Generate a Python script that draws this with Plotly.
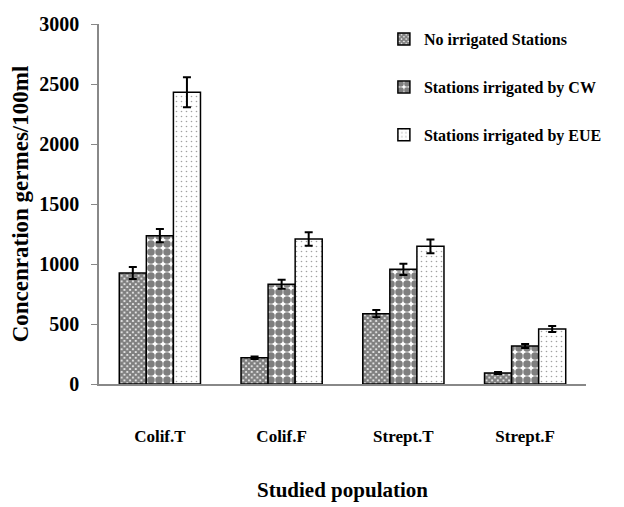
import plotly.graph_objects as go

categories = ["Colif.T", "Colif.F", "Strept.T", "Strept.F"]
series_names = ["No irrigated Stations", "Stations irrigated by CW", "Stations irrigated by EUE"]
no_irrigated = [925, 219, 586, 92]
no_irrigated_err = [50, 10, 30, 8]
cw = [1236, 831, 956, 317]
cw_err = [55, 38, 47, 17]
eue = [2431, 1208, 1147, 458]
eue_err = [125, 56, 58, 25]

FONT = "Liberation Serif, Times New Roman, serif"

fig = go.Figure()
patterns = [
    dict(shape="x", fgcolor="#000000", bgcolor="#ffffff", size=4, solidity=0.8),
    dict(shape=".", fgcolor="#000000", bgcolor="#ffffff", size=8, solidity=0.7),
    dict(shape=".", fgcolor="#444444", bgcolor="#ffffff", size=5, solidity=0.08),
]
data = [(no_irrigated, no_irrigated_err), (cw, cw_err), (eue, eue_err)]
for i, (name, (vals, errs)) in enumerate(zip(series_names, data)):
    fig.add_trace(go.Bar(
        x=categories, y=vals, name=name,
        legendgroup=f"g{i}",
        marker=dict(color="white", pattern=patterns[i],
                    line=dict(color="black", width=1.5)),
        error_y=dict(type="data", array=errs, color="black", thickness=2, width=4),
    ))

# page has an 8px body margin, so the figure is sized to fit the window
fig.update_layout(
    width=616, height=499,
    paper_bgcolor="white", plot_bgcolor="white",
    margin=dict(l=91, r=38, t=16, b=123, autoexpand=False),
    barmode="group", bargap=0.333, bargroupgap=0,
    font=dict(family=FONT, color="black"),
    showlegend=True,
    legend=dict(x=0.585, y=1.005, xanchor="left", yanchor="top",
                font=dict(family=FONT, size=16, color="black", weight="bold"),
                tracegroupgap=24, itemwidth=30, bgcolor="rgba(0,0,0,0)"),
    xaxis=dict(showline=True, linecolor="#888888", linewidth=1.5, ticks="",
               automargin=False, ticklabelstandoff=36,
               tickfont=dict(family=FONT, size=17, color="black", weight="bold"),
               title=dict(text="Studied population", standoff=37,
                          font=dict(family=FONT, size=21, color="black", weight="bold"))),
    yaxis=dict(range=[0, 3000], dtick=500, showgrid=False, zeroline=False,
               showline=True, linecolor="#888888", linewidth=1.5,
               ticks="outside", ticklen=6, tickcolor="#888888", automargin=False,
               ticklabelstandoff=8,
               tickfont=dict(family=FONT, size=20, color="black", weight="bold"),
               title=dict(text="Concenration germes/100ml", standoff=6,
                          font=dict(family=FONT, size=23, color="black", weight="bold"))),
)

fig.write_html("out.html")
